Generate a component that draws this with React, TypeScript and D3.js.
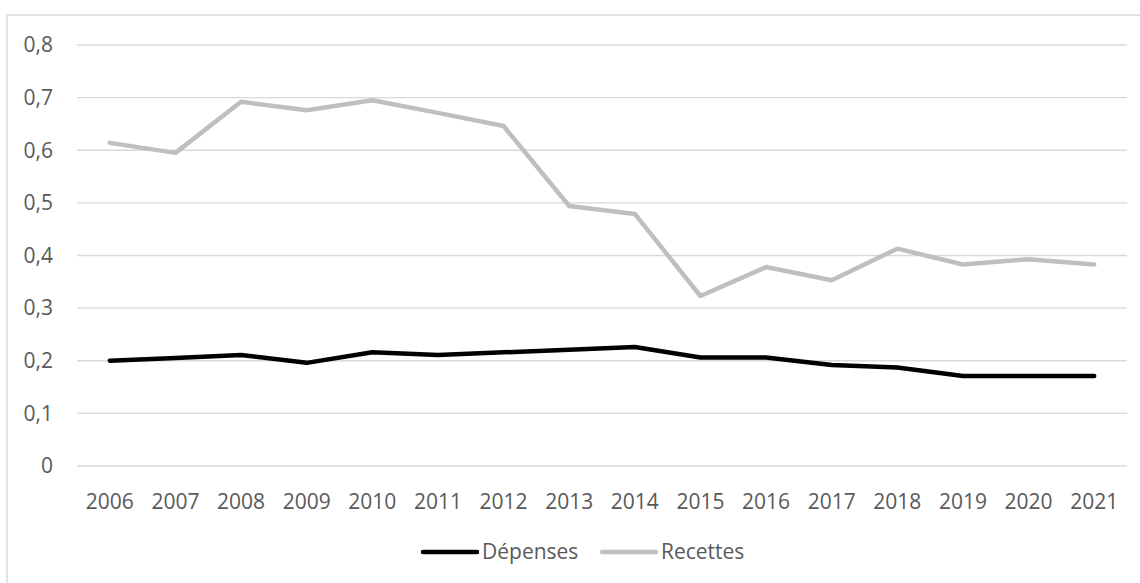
import * as d3 from "d3";

const years = [
  "2006", "2007", "2008", "2009", "2010", "2011", "2012", "2013",
  "2014", "2015", "2016", "2017", "2018", "2019", "2020", "2021",
];
const depenses = [
  0.2, 0.205, 0.211, 0.196, 0.216, 0.211, 0.216, 0.221,
  0.226, 0.206, 0.206, 0.192, 0.187, 0.171, 0.171, 0.171,
];
const recettes = [
  0.614, 0.595, 0.692, 0.676, 0.695, 0.671, 0.646, 0.494,
  0.479, 0.323, 0.378, 0.353, 0.413, 0.383, 0.393, 0.383,
];
const seriesNames = ["Dépenses", "Recettes"];
const seriesColors = ["#000000", "#bfbfbf"];

const width = 1140;
const height = 583;
const font = "'Open Sans', sans-serif";
const textColor = "#595959";

const frLocale = d3.formatLocale({
  decimal: ",",
  thousands: " ",
  grouping: [3],
  currency: ["", " €"],
});
const fmt = frLocale.format(".1~f");

export default function App() {
  const x = d3.scalePoint<string>().domain(years).range([77, 1127]).padding(0.5);
  const y = d3.scaleLinear().domain([0, 0.8]).range([466, 45]);
  const ticks = y.ticks(8);

  const line = d3
    .line<number>()
    .x((_, i) => x(years[i]) as number)
    .y((d) => y(d));

  const series = [depenses, recettes];

  // legend layout
  const legendItems = [
    { lineX: 423, textX: 482 },
    { lineX: 602, textX: 661 },
  ];

  return (
    <svg
      width={width}
      height={height}
      style={{ position: "absolute", left: 0, top: 0, background: "#fff" }}
      fontFamily={font}
    >
      <rect x={0} y={0} width={width} height={height} fill="#fff" />
      <rect
        x={7}
        y={15}
        width={1400}
        height={900}
        fill="none"
        stroke="#d9d9d9"
        strokeWidth={1.5}
      />

      {ticks.map((t) => (
        <g key={t}>
          <line
            x1={77}
            x2={1127}
            y1={y(t)}
            y2={y(t)}
            stroke="#d9d9d9"
            strokeWidth={1.4}
          />
          <text
            x={53}
            y={y(t)}
            dy="0.35em"
            textAnchor="end"
            fontSize={21}
            fill={textColor}
          >
            {fmt(t)}
          </text>
        </g>
      ))}

      {years.map((yr) => (
        <text
          key={yr}
          x={x(yr)}
          y={509}
          textAnchor="middle"
          fontSize={21}
          fill={textColor}
        >
          {yr}
        </text>
      ))}

      {series.map((s, i) => (
        <path
          key={seriesNames[i]}
          d={line(s) || ""}
          fill="none"
          stroke={seriesColors[i]}
          strokeWidth={4.5}
          strokeLinecap="round"
          strokeLinejoin="round"
        />
      ))}

      {seriesNames.map((name, i) => (
        <g key={name}>
          <line
            x1={legendItems[i].lineX}
            x2={legendItems[i].lineX + 54}
            y1={552}
            y2={552}
            stroke={seriesColors[i]}
            strokeWidth={4.5}
            strokeLinecap="round"
          />
          <text
            x={legendItems[i].textX}
            y={552}
            dy="0.35em"
            fontSize={21}
            fill={textColor}
          >
            {name}
          </text>
        </g>
      ))}
    </svg>
  );
}
